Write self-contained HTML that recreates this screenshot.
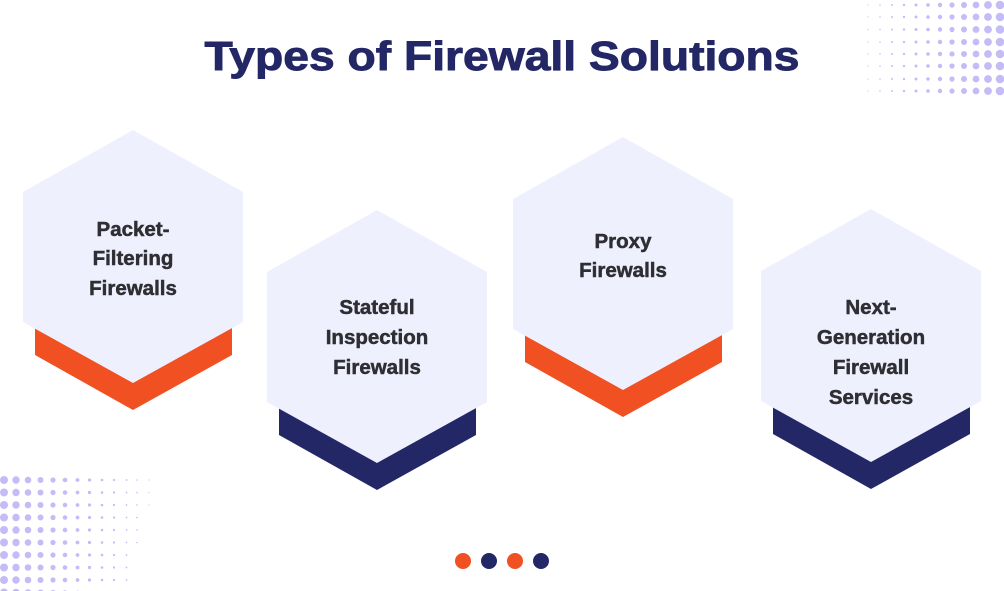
<!DOCTYPE html>
<html><head><meta charset="utf-8"><style>
html,body{margin:0;padding:0;background:#fff;}
body{width:1004px;height:591px;position:relative;overflow:hidden;}
</style></head><body>
<svg width="1004" height="591" viewBox="0 0 1004 591" style="position:absolute;left:0;top:0">
<g fill="#c4bcf7">
<g>
<circle cx="4" cy="480" r="4"/><circle cx="4" cy="492.5" r="4"/><circle cx="4" cy="505" r="4"/><circle cx="4" cy="517.5" r="4"/><circle cx="4" cy="530" r="4"/><circle cx="4" cy="542.5" r="4"/><circle cx="4" cy="555" r="4"/><circle cx="4" cy="567.5" r="4"/><circle cx="4" cy="580" r="4"/><circle cx="4" cy="592.5" r="4"/>
<circle cx="16" cy="480" r="3.7"/><circle cx="16" cy="492.5" r="3.7"/><circle cx="16" cy="505" r="3.7"/><circle cx="16" cy="517.5" r="3.7"/><circle cx="16" cy="530" r="3.7"/><circle cx="16" cy="542.5" r="3.7"/><circle cx="16" cy="555" r="3.7"/><circle cx="16" cy="567.5" r="3.7"/><circle cx="16" cy="580" r="3.7"/><circle cx="16" cy="592.5" r="3.7"/>
<circle cx="28" cy="480" r="3.3"/><circle cx="28" cy="492.5" r="3.3"/><circle cx="28" cy="505" r="3.3"/><circle cx="28" cy="517.5" r="3.3"/><circle cx="28" cy="530" r="3.3"/><circle cx="28" cy="542.5" r="3.3"/><circle cx="28" cy="555" r="3.3"/><circle cx="28" cy="567.5" r="3.3"/><circle cx="28" cy="580" r="3.3"/><circle cx="28" cy="592.5" r="3.3"/>
<circle cx="40.5" cy="480" r="3"/><circle cx="40.5" cy="492.5" r="3"/><circle cx="40.5" cy="505" r="3"/><circle cx="40.5" cy="517.5" r="3"/><circle cx="40.5" cy="530" r="3"/><circle cx="40.5" cy="542.5" r="3"/><circle cx="40.5" cy="555" r="3"/><circle cx="40.5" cy="567.5" r="3"/><circle cx="40.5" cy="580" r="3"/><circle cx="40.5" cy="592.5" r="3"/>
<circle cx="53" cy="480" r="2.6"/><circle cx="53" cy="492.5" r="2.6"/><circle cx="53" cy="505" r="2.6"/><circle cx="53" cy="517.5" r="2.6"/><circle cx="53" cy="530" r="2.6"/><circle cx="53" cy="542.5" r="2.6"/><circle cx="53" cy="555" r="2.6"/><circle cx="53" cy="567.5" r="2.6"/><circle cx="53" cy="580" r="2.6"/><circle cx="53" cy="592.5" r="2.6"/>
<circle cx="65" cy="480" r="2.3"/><circle cx="65" cy="492.5" r="2.3"/><circle cx="65" cy="505" r="2.3"/><circle cx="65" cy="517.5" r="2.3"/><circle cx="65" cy="530" r="2.3"/><circle cx="65" cy="542.5" r="2.3"/><circle cx="65" cy="555" r="2.3"/><circle cx="65" cy="567.5" r="2.3"/><circle cx="65" cy="580" r="2.3"/><circle cx="65" cy="592.5" r="2.3"/>
<circle cx="77.5" cy="480" r="1.9"/><circle cx="77.5" cy="492.5" r="1.9"/><circle cx="77.5" cy="505" r="1.9"/><circle cx="77.5" cy="517.5" r="1.9"/><circle cx="77.5" cy="530" r="1.9"/><circle cx="77.5" cy="542.5" r="1.9"/><circle cx="77.5" cy="555" r="1.9"/><circle cx="77.5" cy="567.5" r="1.9"/><circle cx="77.5" cy="580" r="1.9"/><circle cx="77.5" cy="592.5" r="1.9"/>
<circle cx="89.5" cy="480" r="1.6"/><circle cx="89.5" cy="492.5" r="1.6"/><circle cx="89.5" cy="505" r="1.6"/><circle cx="89.5" cy="517.5" r="1.6"/><circle cx="89.5" cy="530" r="1.6"/><circle cx="89.5" cy="542.5" r="1.6"/><circle cx="89.5" cy="555" r="1.6"/><circle cx="89.5" cy="567.5" r="1.6"/><circle cx="89.5" cy="580" r="1.6"/><circle cx="89.5" cy="592.5" r="1.6"/>
<circle cx="102" cy="480" r="1.3"/><circle cx="102" cy="492.5" r="1.3"/><circle cx="102" cy="505" r="1.3"/><circle cx="102" cy="517.5" r="1.3"/><circle cx="102" cy="530" r="1.3"/><circle cx="102" cy="542.5" r="1.3"/><circle cx="102" cy="555" r="1.3"/><circle cx="102" cy="567.5" r="1.3"/><circle cx="102" cy="580" r="1.3"/><circle cx="102" cy="592.5" r="1.3"/>
<circle cx="114" cy="480" r="1.1"/><circle cx="114" cy="492.5" r="1.1"/><circle cx="114" cy="505" r="1.1"/><circle cx="114" cy="517.5" r="1.1"/><circle cx="114" cy="530" r="1.1"/><circle cx="114" cy="542.5" r="1.1"/><circle cx="114" cy="555" r="1.1"/><circle cx="114" cy="567.5" r="1.1"/><circle cx="114" cy="580" r="1.1"/><circle cx="114" cy="592.5" r="1.1"/>
<circle cx="126.5" cy="480" r="0.9"/><circle cx="126.5" cy="492.5" r="0.9"/><circle cx="126.5" cy="505" r="0.9"/><circle cx="126.5" cy="517.5" r="0.9"/><circle cx="126.5" cy="530" r="0.9"/><circle cx="126.5" cy="542.5" r="0.9"/><circle cx="126.5" cy="555" r="0.9"/><circle cx="126.5" cy="567.5" r="0.9"/><circle cx="126.5" cy="580" r="0.9"/><circle cx="126.5" cy="592.5" r="0.9"/>
<circle cx="137" cy="480" r="0.8"/><circle cx="137" cy="492.5" r="0.8"/><circle cx="137" cy="505" r="0.8"/><circle cx="137" cy="517.5" r="0.8"/><circle cx="137" cy="530" r="0.8"/><circle cx="137" cy="542.5" r="0.8"/>
<circle cx="149" cy="480" r="0.6"/><circle cx="149" cy="492.5" r="0.6"/><circle cx="149" cy="505" r="0.6"/>
</g>
<g>
<circle cx="1000" cy="5" r="4.3"/><circle cx="1000" cy="17" r="4.3"/><circle cx="1000" cy="29.5" r="4.3"/><circle cx="1000" cy="42" r="4.3"/><circle cx="1000" cy="54" r="4.3"/><circle cx="1000" cy="66" r="4.3"/><circle cx="1000" cy="79" r="4.3"/><circle cx="1000" cy="91" r="4.3"/>
<circle cx="988" cy="5" r="3.9"/><circle cx="988" cy="17" r="3.9"/><circle cx="988" cy="29.5" r="3.9"/><circle cx="988" cy="42" r="3.9"/><circle cx="988" cy="54" r="3.9"/><circle cx="988" cy="66" r="3.9"/><circle cx="988" cy="79" r="3.9"/><circle cx="988" cy="91" r="3.9"/>
<circle cx="976" cy="5" r="3.4"/><circle cx="976" cy="17" r="3.4"/><circle cx="976" cy="29.5" r="3.4"/><circle cx="976" cy="42" r="3.4"/><circle cx="976" cy="54" r="3.4"/><circle cx="976" cy="66" r="3.4"/><circle cx="976" cy="79" r="3.4"/><circle cx="976" cy="91" r="3.4"/>
<circle cx="964" cy="5" r="3"/><circle cx="964" cy="17" r="3"/><circle cx="964" cy="29.5" r="3"/><circle cx="964" cy="42" r="3"/><circle cx="964" cy="54" r="3"/><circle cx="964" cy="66" r="3"/><circle cx="964" cy="79" r="3"/><circle cx="964" cy="91" r="3"/>
<circle cx="952" cy="5" r="2.6"/><circle cx="952" cy="17" r="2.6"/><circle cx="952" cy="29.5" r="2.6"/><circle cx="952" cy="42" r="2.6"/><circle cx="952" cy="54" r="2.6"/><circle cx="952" cy="66" r="2.6"/><circle cx="952" cy="79" r="2.6"/><circle cx="952" cy="91" r="2.6"/>
<circle cx="940" cy="5" r="2.2"/><circle cx="940" cy="17" r="2.2"/><circle cx="940" cy="29.5" r="2.2"/><circle cx="940" cy="42" r="2.2"/><circle cx="940" cy="54" r="2.2"/><circle cx="940" cy="66" r="2.2"/><circle cx="940" cy="79" r="2.2"/><circle cx="940" cy="91" r="2.2"/>
<circle cx="928" cy="5" r="1.8"/><circle cx="928" cy="17" r="1.8"/><circle cx="928" cy="29.5" r="1.8"/><circle cx="928" cy="42" r="1.8"/><circle cx="928" cy="54" r="1.8"/><circle cx="928" cy="66" r="1.8"/><circle cx="928" cy="79" r="1.8"/><circle cx="928" cy="91" r="1.8"/>
<circle cx="916" cy="5" r="1.5"/><circle cx="916" cy="17" r="1.5"/><circle cx="916" cy="29.5" r="1.5"/><circle cx="916" cy="42" r="1.5"/><circle cx="916" cy="54" r="1.5"/><circle cx="916" cy="66" r="1.5"/><circle cx="916" cy="79" r="1.5"/><circle cx="916" cy="91" r="1.5"/>
<circle cx="904" cy="5" r="1.2"/><circle cx="904" cy="17" r="1.2"/><circle cx="904" cy="29.5" r="1.2"/><circle cx="904" cy="42" r="1.2"/><circle cx="904" cy="54" r="1.2"/><circle cx="904" cy="66" r="1.2"/><circle cx="904" cy="79" r="1.2"/><circle cx="904" cy="91" r="1.2"/>
<circle cx="892" cy="5" r="1"/><circle cx="892" cy="17" r="1"/><circle cx="892" cy="29.5" r="1"/><circle cx="892" cy="42" r="1"/><circle cx="892" cy="54" r="1"/><circle cx="892" cy="66" r="1"/><circle cx="892" cy="79" r="1"/><circle cx="892" cy="91" r="1"/>
<circle cx="880" cy="5" r="0.8"/><circle cx="880" cy="17" r="0.8"/><circle cx="880" cy="29.5" r="0.8"/><circle cx="880" cy="42" r="0.8"/><circle cx="880" cy="54" r="0.8"/><circle cx="880" cy="66" r="0.8"/><circle cx="880" cy="79" r="0.8"/><circle cx="880" cy="91" r="0.8"/>
<circle cx="868" cy="5" r="0.6"/><circle cx="868" cy="17" r="0.6"/><circle cx="868" cy="29.5" r="0.6"/><circle cx="868" cy="42" r="0.6"/><circle cx="868" cy="54" r="0.6"/><circle cx="868" cy="66" r="0.6"/><circle cx="868" cy="79" r="0.6"/><circle cx="868" cy="91" r="0.6"/>
</g>
</g>

<text x="502" y="70" text-anchor="middle" font-family="Liberation Sans, sans-serif" font-weight="bold" font-size="41" fill="#232766" stroke="#232766" stroke-width="0.9" textLength="595" lengthAdjust="spacingAndGlyphs">Types of Firewall Solutions</text>

<polygon points="35,327 232,327 232,355 133,410 35,355" fill="#f15022"/>
<polygon points="133,130 243,192 243,322 133,383 23,322 23,192" fill="#eff0fe"/>
<polygon points="279,407 476,407 476,435 377,490 279,435" fill="#232766"/>
<polygon points="377,210 487,272 487,402 377,463 267,402 267,272" fill="#eff0fe"/>
<polygon points="525,334 722,334 722,362 623,417 525,362" fill="#f15022"/>
<polygon points="623,137 733,199 733,329 623,390 513,329 513,199" fill="#eff0fe"/>
<polygon points="773,406 970,406 970,434 871,489 773,434" fill="#232766"/>
<polygon points="871,209 981,271 981,401 871,462 761,401 761,271" fill="#eff0fe"/>

<g font-family="Liberation Sans, sans-serif" font-weight="bold" font-size="20.5" fill="#2e2e33" stroke="#2e2e33" stroke-width="0.5" text-anchor="middle">
<text x="133" y="236">Packet-</text>
<text x="133" y="265">Filtering</text>
<text x="133" y="295">Firewalls</text>
<text x="377" y="314">Stateful</text>
<text x="377" y="344">Inspection</text>
<text x="377" y="374">Firewalls</text>
<text x="623" y="248">Proxy</text>
<text x="623" y="277">Firewalls</text>
<text x="871" y="314">Next-</text>
<text x="871" y="344">Generation</text>
<text x="871" y="374">Firewall</text>
<text x="871" y="404">Services</text>
</g>

<circle cx="463" cy="561" r="8" fill="#f15022"/>
<circle cx="489" cy="561" r="8" fill="#232766"/>
<circle cx="515" cy="561" r="8" fill="#f15022"/>
<circle cx="541" cy="561" r="8" fill="#232766"/>
</svg>
</body></html>
